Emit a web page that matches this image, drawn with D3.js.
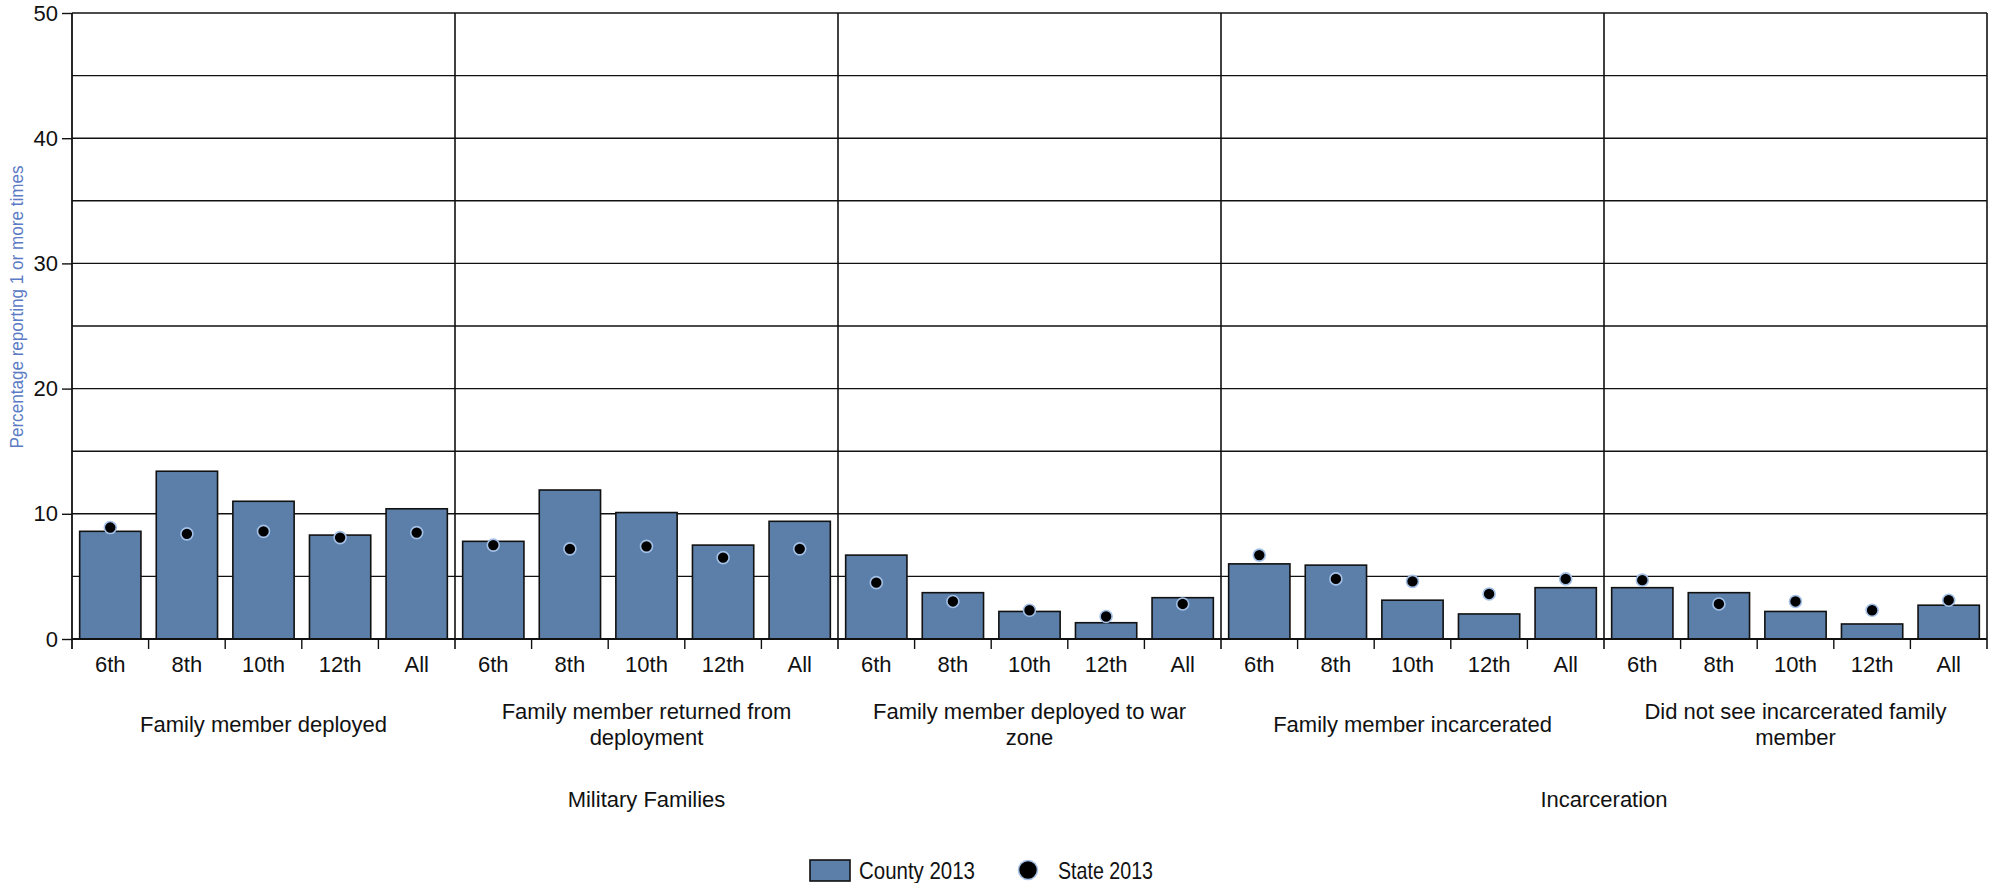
<!DOCTYPE html>
<html>
<head>
<meta charset="utf-8">
<script src="https://cdn.jsdelivr.net/npm/d3@7"></script>
<style>
  body { margin: 0; background: #fff; }
  svg text { font-family: "Liberation Sans", Arial, sans-serif; fill: #111; }
  .narrow { font-family: "Liberation Sans Narrow", "Liberation Sans", sans-serif; }
</style>
</head>
<body>
<svg width="1995" height="883"></svg>
<script>
// data
const grades = ["6th", "8th", "10th", "12th", "All"]
const groups = [
  "Family member deployed",
  "Family member returned from deployment",
  "Family member deployed to war zone",
  "Family member incarcerated",
  "Did not see incarcerated family member"
]
// wrapped the way the original labels wrap
const groupLines = [
  ["Family member deployed"],
  ["Family member returned from", "deployment"],
  ["Family member deployed to war", "zone"],
  ["Family member incarcerated"],
  ["Did not see incarcerated family", "member"]
]
const sections = ["Military Families", "Incarceration"]
const sectionGroups = [[0, 1, 2], [3, 4]]

const county2013 = [
  [8.6, 13.4, 11.0, 8.3, 10.4],
  [7.8, 11.9, 10.1, 7.5, 9.4],
  [6.7, 3.7, 2.2, 1.3, 3.3],
  [6.0, 5.9, 3.1, 2.0, 4.1],
  [4.1, 3.7, 2.2, 1.2, 2.7]
]
const state2013 = [
  [8.9, 8.4, 8.6, 8.1, 8.5],
  [7.5, 7.2, 7.4, 6.5, 7.2],
  [4.5, 3.0, 2.3, 1.8, 2.8],
  [6.7, 4.8, 4.6, 3.6, 4.8],
  [4.7, 2.8, 3.0, 2.3, 3.1]
]
const yTicks = [0, 10, 20, 30, 40, 50]
const yGrid = [5, 10, 15, 20, 25, 30, 35, 40, 45, 50]

const svg = d3.select('svg')
const margin = {top: 13, right: 8, bottom: 244, left: 72}
const width = 1995 - margin.left - margin.right
const height = 883 - margin.top - margin.bottom

const barColor = '#5b7fa8'
const fontSize = '22px'

const graph = svg.append('g')
  .attr('transform', `translate(${margin.left},${margin.top})`)

// scales
const y = d3.scaleLinear().domain([0, 50]).range([height, 0])
const gx = d3.scaleBand().domain(groups).range([0, width])
const x = d3.scaleBand().domain(grades).range([0, gx.bandwidth()])
  .paddingInner(0.2).paddingOuter(0.1)

// horizontal grid
graph.append('g').selectAll('line')
  .data(yGrid)
  .enter().append('line')
  .attr('x1', 0).attr('x2', width)
  .attr('y1', d => y(d)).attr('y2', d => y(d))
  .attr('stroke', '#111').attr('stroke-width', 1.4)

// vertical group separators
graph.append('g').selectAll('line')
  .data(groups)
  .enter().append('line')
  .attr('x1', d => gx(d) + gx.bandwidth()).attr('x2', d => gx(d) + gx.bandwidth())
  .attr('y1', 0).attr('y2', height + 10)
  .attr('stroke', '#111').attr('stroke-width', 1.6)

// y axis
const yAxis = d3.axisLeft(y).tickValues(yTicks).tickSize(10).tickPadding(4)
const yAxisGroup = graph.append('g').call(yAxis)
yAxisGroup.select('.domain').attr('stroke', '#111').attr('stroke-width', 1.8)
  .attr('d', `M0,${height + 10}V0`)
yAxisGroup.selectAll('.tick line').attr('stroke', '#111').attr('stroke-width', 1.4)
yAxisGroup.selectAll('text')
  .style('font-family', '"Liberation Sans", Arial, sans-serif')
  .style('font-size', fontSize).attr('fill', '#111')

svg.append('text')
  .attr('class', 'narrow')
  .attr('transform', 'translate(23,307) rotate(-90)')
  .attr('text-anchor', 'middle')
  .attr('textLength', 283).attr('lengthAdjust', 'spacingAndGlyphs')
  .style('font-size', '18px')
  .style('fill', '#5b7bc4')
  .text('Percentage reporting 1 or more times')

// one block per group
const groupG = graph.selectAll('.grp')
  .data(groups)
  .enter().append('g')
  .attr('class', 'grp')
  .attr('transform', d => `translate(${gx(d)},0)`)

groupG.each(function(g, gi) {
  const gg = d3.select(this)
  const bars = grades.map((gr, i) => ({grade: gr, county: county2013[gi][i], state: state2013[gi][i]}))

  gg.selectAll('rect')
    .data(bars)
    .enter().append('rect')
    .attr('x', d => x(d.grade))
    .attr('width', x.bandwidth())
    .attr('y', d => y(d.county))
    .attr('height', d => height - y(d.county))
    .attr('fill', barColor)
    .attr('stroke', '#111')
    .attr('stroke-width', 1.6)

  gg.selectAll('circle')
    .data(bars)
    .enter().append('circle')
    .attr('cx', d => x(d.grade) + x.bandwidth() / 2)
    .attr('cy', d => y(d.state))
    .attr('r', 6)
    .attr('fill', '#000')
    .attr('stroke', '#a4c0e6')
    .attr('stroke-width', 1.6)

  // category labels centred in each band
  const xAxis = d3.axisBottom(x.copy().paddingInner(0).paddingOuter(0))
    .tickSize(0).tickPadding(17)
  const xg = gg.append('g').attr('transform', `translate(0,${height})`).call(xAxis)
  xg.select('.domain').remove()
  xg.selectAll('text')
    .style('font-family', '"Liberation Sans", Arial, sans-serif')
    .style('font-size', fontSize).attr('fill', '#111')

  // ticks at band edges
  const step = gx.bandwidth() / grades.length
  gg.append('g').selectAll('line')
    .data(d3.range(1, grades.length))
    .enter().append('line')
    .attr('x1', d => d * step).attr('x2', d => d * step)
    .attr('y1', height).attr('y2', height + 10)
    .attr('stroke', '#111').attr('stroke-width', 1.4)

  // group label
  const lines = groupLines[gi]
  const top = lines.length === 1 ? 719 : 706
  gg.append('text')
    .attr('text-anchor', 'middle')
    .style('font-size', fontSize)
    .selectAll('tspan')
    .data(lines)
    .enter().append('tspan')
    .attr('x', gx.bandwidth() / 2)
    .attr('y', (d, i) => top - margin.top + 13 + i * 26)
    .text(d => d)
})

// x baseline
graph.append('line')
  .attr('x1', 0).attr('x2', width)
  .attr('y1', height).attr('y2', height)
  .attr('stroke', '#111').attr('stroke-width', 1.8)

// section labels
sections.forEach((s, si) => {
  const gs = sectionGroups[si]
  const x0 = gx(groups[gs[0]])
  const x1 = gx(groups[gs[gs.length - 1]]) + gx.bandwidth()
  graph.append('text')
    .attr('x', (x0 + x1) / 2)
    .attr('y', 807 - margin.top)
    .attr('text-anchor', 'middle')
    .style('font-size', fontSize)
    .text(s)
})

// legend
const legend = svg.append('g')
legend.append('rect')
  .attr('x', 810).attr('y', 860).attr('width', 40).attr('height', 21)
  .attr('fill', barColor).attr('stroke', '#111').attr('stroke-width', 1.6)
legend.append('text')
  .attr('class', 'narrow')
  .attr('x', 859).attr('y', 879)
  .attr('textLength', 116).attr('lengthAdjust', 'spacingAndGlyphs')
  .style('font-size', '24px')
  .text('County 2013')
legend.append('circle')
  .attr('cx', 1028).attr('cy', 870).attr('r', 9.5)
  .attr('fill', '#000').attr('stroke', '#a4c0e6').attr('stroke-width', 1.6)
legend.append('text')
  .attr('class', 'narrow')
  .attr('x', 1058).attr('y', 879)
  .attr('textLength', 95).attr('lengthAdjust', 'spacingAndGlyphs')
  .style('font-size', '24px')
  .text('State 2013')
</script>
</body>
</html>
